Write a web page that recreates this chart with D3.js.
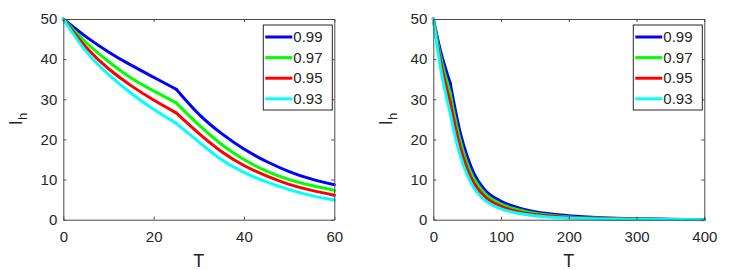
<!DOCTYPE html>
<html>
<head>
<meta charset="utf-8">
<script src="https://cdn.jsdelivr.net/npm/d3@7"></script>
<style>
  body { margin: 0; background: #fff; }
  svg text { font-family: "Liberation Sans", Arial, sans-serif; fill: #262626; }
</style>
</head>
<body>
<div id="chart"></div>
<script>
// series names and colours (legend order)
var seriesNames = ["0.99", "0.97", "0.95", "0.93"];
var seriesColors = ["#0000ff", "#00ff00", "#ff0000", "#00ffff"];

// the curves have a corner at T = 25 in both panels
var kinkT = 25;

// left panel: T from 0 to 60
var tLeft = [0, 5, 10, 15, 20, 25, 30, 35, 40, 45, 50, 55, 60];
var left099 = [50, 45.6, 41.8, 38.5, 35.5, 32.5, 26.3, 21.5, 17.6, 14.5, 12.0, 10.1, 8.7];
var left097 = [50, 44.2, 39.4, 35.3, 32.1, 29.1, 23.6, 18.8, 15.0, 12.1, 10.0, 8.5, 7.3];
var left095 = [50, 43.0, 37.6, 33.4, 29.8, 26.6, 21.5, 17.0, 13.5, 10.9, 8.8, 7.3, 6.1];
var left093 = [50, 42.0, 36.2, 31.5, 27.5, 24.0, 19.4, 15.0, 11.8, 9.4, 7.5, 6.0, 4.9];

// right panel: T from 0 to 400
var tRight = [0, 10, 25, 30, 40, 50, 60, 75, 100, 125, 150, 200, 250, 300, 350, 400];
var right099 = [50, 42.5, 34, 29.5, 21.5, 15.8, 11.5, 7.6, 4.6, 3.0, 2.0, 1.0, 0.5, 0.25, 0.12, 0.05];
var right097 = [50, 41.2, 31.5, 27, 19.5, 14, 10.2, 6.7, 3.9, 2.5, 1.6, 0.7, 0.35, 0.15, 0.07, 0.03];
var right095 = [50, 40, 29.2, 25, 17.8, 12.7, 9.1, 5.9, 3.3, 2.0, 1.3, 0.55, 0.25, 0.1, 0.05, 0.02];
var right093 = [50, 38.5, 26.5, 22.5, 15.8, 11.2, 7.9, 5.0, 2.7, 1.6, 1.0, 0.4, 0.15, 0.06, 0.03, 0.01];

// tick labels
var yTicks = [0, 10, 20, 30, 40, 50];
var xTicksLeft = [0, 20, 40, 60];
var xTicksRight = [0, 100, 200, 300, 400];

var W = 730, H = 270;
var svg = d3.select("#chart").append("svg")
    .attr("width", W)
    .attr("height", H);

var axisColor = "#4a4a4a";

function drawPanel(x0, tVals, seriesVals, xMax, xTicks, curve) {
  var x = d3.scaleLinear().domain([0, xMax]).range([x0, x0 + 271]);
  var y = d3.scaleLinear().domain([0, 50]).range([219.7, 19]);

  var g = svg.append("g");

  // curves, drawn in two pieces so the corner at kinkT stays sharp
  var line = d3.line()
    .x(function(d) { return x(d[0]); })
    .y(function(d) { return y(d[1]); })
    .curve(curve);

  seriesVals.forEach(function(vals, i) {
    var pts = tVals.map(function(t, j) { return [t, vals[j]]; });
    var pieces = [
      pts.filter(function(d) { return d[0] <= kinkT; }),
      pts.filter(function(d) { return d[0] >= kinkT; })
    ];
    pieces.forEach(function(p) {
      g.append("path")
        .datum(p)
        .attr("fill", "none")
        .attr("stroke", seriesColors[i])
        .attr("stroke-width", 3)
        .attr("stroke-linejoin", "round")
        .attr("stroke-linecap", "round")
        .attr("d", line);
    });
  });

  // axes (ticks inward on all four sides)
  var bottom = g.append("g")
    .attr("transform", "translate(0," + y(0) + ")")
    .call(d3.axisBottom(x).tickValues(xTicks).tickSize(-3).tickSizeOuter(0).tickPadding(12));
  var leftAx = g.append("g")
    .attr("transform", "translate(" + x(0) + ",0)")
    .call(d3.axisLeft(y).tickValues(yTicks).tickSize(-3).tickSizeOuter(0).tickPadding(6));
  var top = g.append("g")
    .attr("transform", "translate(0," + y(50) + ")")
    .call(d3.axisTop(x).tickValues(xTicks).tickSize(-3).tickSizeOuter(0).tickFormat(""));
  var rightAx = g.append("g")
    .attr("transform", "translate(" + x(xMax) + ",0)")
    .call(d3.axisRight(y).tickValues(yTicks).tickSize(-3).tickSizeOuter(0).tickFormat(""));

  [bottom, leftAx, top, rightAx].forEach(function(a) {
    a.selectAll("path, line").attr("stroke", axisColor);
    a.selectAll("text")
      .attr("font-size", 15)
      .attr("fill", "#262626")
      .style("font-family", "Liberation Sans, Arial, sans-serif");
  });

  // axis labels
  g.append("text")
    .attr("x", (x(0) + x(xMax)) / 2)
    .attr("y", 267)
    .attr("text-anchor", "middle")
    .attr("font-size", 18)
    .text("T");

  var yl = g.append("text")
    .attr("transform", "translate(" + (x0 - 41) + ",119) rotate(-90)")
    .attr("text-anchor", "middle")
    .attr("font-size", 18);
  yl.append("tspan").text("I");
  yl.append("tspan").attr("font-size", 13).attr("dy", 5).text("h");

  // legend
  var lx = x(xMax) - 71, ly = 25;
  var leg = g.append("g");
  leg.append("rect")
    .attr("x", lx)
    .attr("y", ly)
    .attr("width", 69)
    .attr("height", 85)
    .attr("fill", "#fff")
    .attr("stroke", "#262626")
    .attr("stroke-width", 1);

  seriesNames.forEach(function(name, i) {
    var yy = ly + 12 + i * 20.6;
    leg.append("line")
      .attr("x1", lx + 2)
      .attr("x2", lx + 29)
      .attr("y1", yy)
      .attr("y2", yy)
      .attr("stroke", seriesColors[i])
      .attr("stroke-width", 3);
    leg.append("text")
      .attr("x", lx + 30)
      .attr("y", yy)
      .attr("dy", "0.35em")
      .attr("font-size", 15)
      .text(name);
  });
}

drawPanel(63.3, tLeft, [left099, left097, left095, left093], 60, xTicksLeft, d3.curveNatural);
drawPanel(433.3, tRight, [right099, right097, right095, right093], 400, xTicksRight, d3.curveMonotoneX);
</script>
</body>
</html>
